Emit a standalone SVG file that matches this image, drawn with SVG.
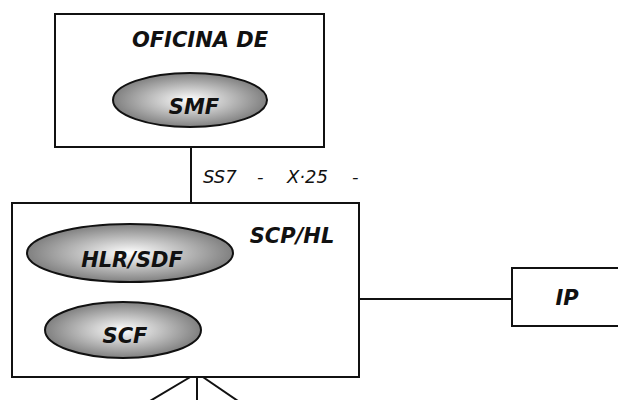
<svg xmlns="http://www.w3.org/2000/svg" width="618" height="400" viewBox="0 0 618 400">
  <style>
    .box { fill: #ffffff; stroke: #111111; stroke-width: 2; }
    .oval { fill: url(#shade); stroke: #111111; stroke-width: 2; }
    .link { fill: none; stroke: #111111; stroke-width: 2; }
    .lbl { font-family: "Comic Sans MS", "DejaVu Sans", sans-serif; font-style: italic; font-weight: bold; font-size: 21px; fill: #111111; }
    .note { font-family: "Comic Sans MS", "DejaVu Sans", sans-serif; font-style: italic; font-size: 18px; fill: #111111; }
  </style>
  <defs>
    <radialGradient id="shade" cx="50%" cy="50%" r="50%">
      <stop offset="0" stop-color="#ffffff"/>
      <stop offset="1" stop-color="#808080"/>
    </radialGradient>
  </defs>
  <rect width="618" height="400" fill="#ffffff"/>

  <g id="connectors">
    <line class="link" x1="191" y1="147" x2="191" y2="208"/>
    <line class="link" x1="359" y1="299" x2="512" y2="299"/>
    <line class="link" x1="197" y1="373" x2="150" y2="401"/>
    <line class="link" x1="197" y1="373" x2="197" y2="401"/>
    <line class="link" x1="197" y1="373" x2="238" y2="401"/>
    <text class="note" y="183"><tspan x="203">SS7</tspan><tspan x="257">-</tspan><tspan x="287">X·25</tspan><tspan x="352">-</tspan></text>
  </g>

  <g id="oficina">
    <rect class="box" x="55" y="14" width="269" height="133"/>
    <text class="lbl" x="200" y="47" text-anchor="middle">OFICINA DE</text>
  </g>
  <g id="smf">
    <ellipse class="oval" cx="190" cy="100" rx="77" ry="27"/>
    <text class="lbl" x="194" y="114" text-anchor="middle">SMF</text>
  </g>

  <g id="scp">
    <rect class="box" x="12" y="203" width="347" height="174"/>
    <text class="lbl" x="292" y="243" text-anchor="middle">SCP/HL</text>
  </g>
  <g id="hlr">
    <ellipse class="oval" cx="130" cy="253" rx="103" ry="29"/>
    <text class="lbl" x="132" y="267" text-anchor="middle">HLR/SDF</text>
  </g>
  <g id="scf">
    <ellipse class="oval" cx="123" cy="330" rx="78" ry="28"/>
    <text class="lbl" x="125" y="343" text-anchor="middle">SCF</text>
  </g>

  <g id="ip">
    <rect class="box" x="512" y="268" width="120" height="58"/>
    <text class="lbl" x="567" y="305" text-anchor="middle">IP</text>
  </g>
</svg>
